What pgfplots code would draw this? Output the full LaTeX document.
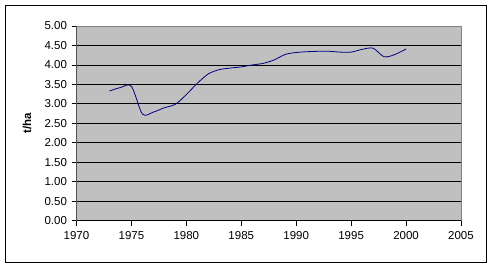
\documentclass[border=0pt]{standalone}
\usepackage{pgfplots}
\pgfplotsset{compat=1.18}
\usepackage{fontspec}
\setmainfont{Liberation Sans}
\definecolor{bg}{HTML}{C0C0C0}
\definecolor{navyline}{HTML}{000080}
\definecolor{frame}{HTML}{808080}
\begin{document}
\begin{tikzpicture}[x=1pt,y=1pt]
\path[use as bounding box] (0,0) rectangle (493,268);
\draw[black, line width=0.8pt] (5.7,6) rectangle (486,262.7);
\node[rotate=90, font=\fontsize{11.5}{13}\selectfont\bfseries] at (27,145) {t/ha};
\begin{axis}[
  at={(76.5pt,47.3pt)}, anchor=south west,
  scale only axis, width=384.5pt, height=194.7pt,
  xmin=1970, xmax=2005, ymin=0, ymax=5,
  xtick={1970,1975,...,2005}, ytick={0,0.5,...,5},
  xtick pos=left, ytick pos=left, tick align=outside,
  major tick length=5pt,
  every tick/.style={black, line width=0.8pt},
  ymajorgrids, grid style={black, line width=0.8pt},
  axis background/.style={fill=bg},
  axis line style={draw=frame, line width=0.8pt},
  tick label style={font=\fontsize{11.5}{13}\selectfont},
  /pgf/number format/assume math mode=true,
  xticklabel style={/pgf/number format/1000 sep={}, yshift=-2pt},
  yticklabel style={/pgf/number format/fixed, /pgf/number format/fixed zerofill, /pgf/number format/precision=2, xshift=-1pt},
]
\addplot[navyline, line width=0.8pt, smooth, tension=0.5] coordinates {
(1973,3.33) (1974,3.42) (1975,3.45) (1976,2.74) (1977,2.79) (1978,2.90)
(1979,2.99) (1980,3.24) (1981,3.53) (1982,3.77) (1983,3.88) (1984,3.92)
(1985,3.95) (1986,4.00) (1987,4.04) (1988,4.13) (1989,4.27) (1990,4.32)
(1991,4.34) (1992,4.35) (1993,4.35) (1994,4.33) (1995,4.33) (1996,4.40)
(1997,4.43) (1998,4.21) (1999,4.27) (2000,4.41)
};
\draw[black, line width=0.8pt] (rel axis cs:0,1) -- (rel axis cs:0,0) -- (rel axis cs:1,0);
\end{axis}
\end{tikzpicture}
\end{document}
